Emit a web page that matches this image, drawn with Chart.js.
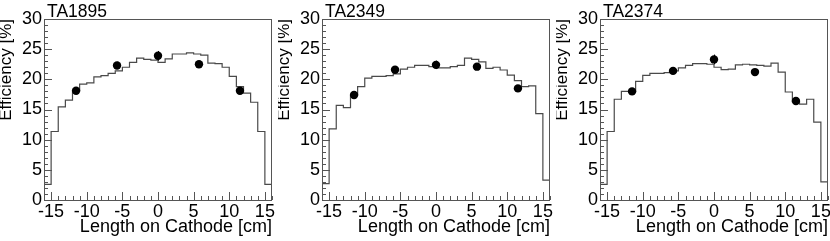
<!DOCTYPE html>
<html>
<head>
<meta charset="utf-8">
<script src="https://cdn.jsdelivr.net/npm/chart.js@4.4.1/dist/chart.umd.min.js"></script>
<style>
    html, body { margin:0; padding:0; background:#fff; }
    body { width:830px; height:241px; position:relative; overflow:hidden; }
    .panel { position:absolute; top:0; width:277px; height:241px; }
</style>
</head>
<body>
<div class="panel" style="left:0px"><canvas id="c0" width="277" height="241"></canvas></div>
<div class="panel" style="left:278px"><canvas id="c1" width="277" height="241"></canvas></div>
<div class="panel" style="left:556px"><canvas id="c2" width="277" height="241"></canvas></div>
<script>
'use strict';

var panelNames = ['TA1895', 'TA2349', 'TA2374'];

// bin edges of the simulated efficiency histograms [cm]
var binEdges = [-16,-15,-14,-13,-12,-11,-10,-9,-8,-7,-6,-5,-4,-3,-2,-1,0,
                1,2,3,4,5,6,7,8,9,10,11,12,13,14,15,16];

// simulation, one value per bin [%]
var simTA1895 = [2.6, 11.35, 15.45, 16.55, 18.1, 19.2, 19.4, 20.4, 20.6, 21.0, 21.4, 22.0, 22.8, 23.5, 23.3, 23.2,
                 22.8, 23.4, 24.2, 24.2, 24.4, 24.2, 24.0, 22.7, 22.6, 22.0, 20.5, 18.8, 17.7, 16.2, 11.35, 2.6];
var simTA2349 = [2.7, 11.8, 15.7, 15.3, 17.4, 18.8, 20.2, 20.5, 20.5, 20.6, 20.9, 21.7, 22.0, 22.3, 22.3, 22.1,
                 21.9, 21.9, 22.1, 22.3, 23.5, 23.3, 22.9, 21.8, 22.0, 21.55, 20.7, 19.8, 18.8, 18.9, 14.3, 3.3];
var simTA2374 = [2.6, 11.35, 16.7, 18.0, 18.0, 19.65, 20.65, 21.0, 21.0, 21.1, 21.4, 21.9, 22.3, 22.6, 22.6, 22.5,
                 22.0, 21.6, 21.7, 22.4, 22.5, 22.4, 22.3, 22.2, 22.7, 21.2, 17.9, 16.3, 15.9, 16.7, 12.9, 3.0];

// measured points
var measX = [-11.5, -5.75, 0, 5.75, 11.5];
var measTA1895 = [18.1, 22.3, 23.9, 22.5, 18.1];
var errTA1895 = [0.4, 0.6, 0.8, 0.5, 0.5];
var measTA2349 = [17.4, 21.6, 22.4, 22.1, 18.5];
var errTA2349 = [0.4, 0.5, 0.7, 0.5, 0.4];
var measTA2374 = [18.0, 21.4, 23.3, 21.2, 16.4];
var errTA2374 = [0.4, 0.5, 0.8, 0.4, 0.4];

var xTicks = [-15, -10, -5, 0, 5, 10, 15];
var yTicks = [0, 5, 10, 15, 20, 25, 30];

var sims = [simTA1895, simTA2349, simTA2374];
var meas = [measTA1895, measTA2349, measTA2374];
var errs = [errTA1895, errTA2349, errTA2374];

var FONT = "'Liberation Sans', Arial, Helvetica, sans-serif";
var FRAME = '#555';

// ROOT-like frame, inner ticks, error bars and pad title
var rootStyle = {
    id: 'rootStyle',
    afterDatasetsDraw: function(chart) {
        var ctx = chart.ctx, xs = chart.scales.x, ys = chart.scales.y;
        var ds = chart.data.datasets[1];
        ctx.save();
        ctx.strokeStyle = '#000';
        ctx.lineWidth = 1;
        ds.data.forEach(function(p){
            var px = Math.round(xs.getPixelForValue(p.x)) + 0.5;
            ctx.beginPath();
            ctx.moveTo(px, ys.getPixelForValue(p.y - p.err));
            ctx.lineTo(px, ys.getPixelForValue(p.y + p.err));
            ctx.stroke();
        });
        ctx.restore();
    },
    afterDraw: function(chart) {
        var ctx = chart.ctx, a = chart.chartArea;
        var xs = chart.scales.x, ys = chart.scales.y;
        ctx.save();
        ctx.strokeStyle = FRAME;
        ctx.lineWidth = 1;
        ctx.strokeRect(Math.round(a.left) + 0.5, Math.round(a.top) + 0.5,
                       Math.round(a.right - a.left) - 1, Math.round(a.bottom - a.top));
        ctx.beginPath();
        for (var v = Math.ceil(xs.min); v <= xs.max; v++) {
            var px = Math.round(xs.getPixelForValue(v)) + 0.5;
            var len = (v % 5 === 0) ? 8 : 4;
            ctx.moveTo(px, a.bottom);
            ctx.lineTo(px, a.bottom - len);
        }
        for (var w = ys.min; w <= ys.max; w++) {
            var py = Math.round(ys.getPixelForValue(w)) + 0.5;
            var l2 = (w % 5 === 0) ? 8 : 4;
            ctx.moveTo(a.left, py);
            ctx.lineTo(a.left + l2, py);
        }
        ctx.stroke();
        ctx.fillStyle = '#000';
        ctx.font = '17.5px ' + FONT;
        ctx.textBaseline = 'alphabetic';
        ctx.textAlign = 'left';
        ctx.fillText(chart.options.panelName, a.left + 3, 16.5);
        ctx.restore();
    }
};

for (var k = 0; k < 3; k++) {
    var sim = sims[k];
    var histData = binEdges.map(function(e, i){
        return {x: e, y: i < sim.length ? sim[i] : sim[sim.length - 1]};
    });
    var pointData = measX.map(function(x, i){
        return {x: x, y: meas[k][i], err: errs[k][i]};
    });

    new Chart(document.getElementById('c' + k), {
        type: 'line',
        data: {
            datasets: [
                {
                    data: histData,
                    stepped: 'before',
                    borderColor: '#4a4a4a',
                    borderWidth: 1.2,
                    pointRadius: 0,
                    fill: false,
                    order: 2
                },
                {
                    type: 'scatter',
                    data: pointData,
                    showLine: false,
                    pointRadius: 4.2,
                    pointBackgroundColor: '#000',
                    pointBorderWidth: 0,
                    order: 1
                }
            ]
        },
        options: {
            panelName: panelNames[k],
            responsive: false,
            animation: false,
            events: [],
            layout: { padding: { top: 19, right: 5, left: 0, bottom: 0 } },
            plugins: { legend: { display: false }, tooltip: { enabled: false } },
            scales: {
                x: {
                    type: 'linear',
                    min: -16, max: 16,
                    afterBuildTicks: function(s){ s.ticks = xTicks.map(function(v){ return {value: v}; }); },
                    afterFit: function(s){ s.height = 41; },
                    grid: { display: false, drawTicks: false },
                    border: { display: false },
                    ticks: { color: '#000', padding: 1, maxRotation: 0, autoSkip: false,
                             font: { family: FONT, size: 18 } },
                    title: { display: true, text: 'Length on Cathode [cm]', align: 'end', color: '#000',
                             font: { family: FONT, size: 18, lineHeight: 1.2 }, padding: { top: 0, bottom: 3.5 } }
                },
                y: {
                    type: 'linear',
                    min: 0, max: 30,
                    afterBuildTicks: function(s){ s.ticks = yTicks.map(function(v){ return {value: v}; }); },
                    afterFit: function(s){ s.width = 44; },
                    grid: { display: false, drawTicks: false },
                    border: { display: false },
                    ticks: { color: '#000', padding: 2, font: { family: FONT, size: 18 } },
                    title: { display: true, text: 'Efficiency [%]', align: 'end', color: '#000',
                             font: { family: FONT, size: 17, lineHeight: 0.8 }, padding: 0 }
                }
            }
        },
        plugins: [rootStyle]
    });
}
</script>
</body>
</html>
